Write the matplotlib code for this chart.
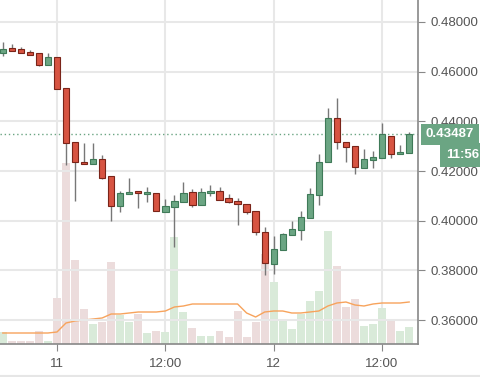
import pandas as pd
import matplotlib
matplotlib.use("Agg")
import matplotlib.pyplot as plt
import matplotlib.dates as mdates
import matplotlib.transforms as mtransforms
from matplotlib.lines import Line2D

# hourly candles
times = pd.date_range("2018-05-10 18:00", periods=46, freq="h")
opens = [0.4675, 0.4695, 0.4691, 0.4679, 0.4675, 0.4627, 0.4659, 0.4534, 0.4317, 0.4237,
         0.4229, 0.4249, 0.4180, 0.4060, 0.4108, 0.4120, 0.4108, 0.4112, 0.4035, 0.4056,
         0.4076, 0.4116, 0.4064, 0.4112, 0.4120, 0.4092, 0.4080, 0.4068, 0.4039, 0.3955,
         0.3826, 0.3883, 0.3943, 0.3963, 0.4011, 0.4104, 0.4237, 0.4414, 0.4317, 0.4301,
         0.4212, 0.4245, 0.4253, 0.4341, 0.4269, 0.4273]
highs = [0.4720, 0.4711, 0.4699, 0.4687, 0.4675, 0.4675, 0.4659, 0.4534, 0.4317, 0.4313,
         0.4313, 0.4265, 0.4180, 0.4120, 0.4172, 0.4120, 0.4136, 0.4112, 0.4088, 0.4104,
         0.4156, 0.4128, 0.4132, 0.4144, 0.4136, 0.4108, 0.4092, 0.4068, 0.4039, 0.3975,
         0.3939, 0.3951, 0.3999, 0.4039, 0.4132, 0.4269, 0.4454, 0.4494, 0.4317, 0.4301,
         0.4289, 0.4281, 0.4394, 0.4341, 0.4305, 0.4357]
lows = [0.4663, 0.4683, 0.4675, 0.4667, 0.4623, 0.4627, 0.4530, 0.4225, 0.4080, 0.4229,
        0.4229, 0.4168, 0.3999, 0.4035, 0.4108, 0.4052, 0.4076, 0.4039, 0.4035, 0.3895,
        0.4076, 0.4056, 0.4064, 0.4100, 0.4084, 0.4072, 0.3983, 0.4027, 0.3943, 0.3782,
        0.3786, 0.3883, 0.3943, 0.3923, 0.4011, 0.4064, 0.4237, 0.4289, 0.4237, 0.4188,
        0.4212, 0.4212, 0.4253, 0.4253, 0.4269, 0.4273]
closes = [0.4691, 0.4683, 0.4675, 0.4667, 0.4627, 0.4659, 0.4530, 0.4313, 0.4237, 0.4229,
          0.4249, 0.4172, 0.4060, 0.4112, 0.4116, 0.4112, 0.4116, 0.4039, 0.4060, 0.4080,
          0.4112, 0.4064, 0.4116, 0.4120, 0.4084, 0.4076, 0.4068, 0.4035, 0.3955, 0.3830,
          0.3887, 0.3947, 0.3967, 0.4015, 0.4108, 0.4237, 0.4414, 0.4317, 0.4297, 0.4217,
          0.4249, 0.4257, 0.4349, 0.4269, 0.4277, 0.43487]
volume = [12, 3, 3, 3, 13, 3, 46, 181, 84, 35,
          20, 22, 82, 29, 22, 30, 11, 13, 12, 107,
          32, 16, 8, 8, 13, 7, 33, 7, 22, 90,
          62, 24, 15, 30, 43, 53, 113, 78, 37, 45,
          18, 20, 36, 25, 13, 17]
volume_ma = [11, 11, 11, 11, 11, 11, 12, 21, 23, 24,
             25, 26, 30, 30, 31, 32, 32, 32, 33, 37,
             38, 40, 40, 40, 40, 40, 40, 31, 27, 32,
             33, 33, 31, 31, 32, 33, 38, 41, 42, 39,
             38, 40, 41, 41, 41, 42]
last_price = 0.43487
countdown = "11:56"
price_ticks = [0.36, 0.38, 0.40, 0.42, 0.44, 0.46, 0.48]
time_ticks = [times[6], times[18], times[30], times[42]]
time_labels = ["11", "12:00", "12", "12:00"]

green = "#6ba583"
green_edge = "#3f7a58"
red = "#d75442"
red_edge = "#7a2419"
plt.rcParams["font.family"] = ["Liberation Sans", "DejaVu Sans"]

x = mdates.date2num(times.to_pydatetime())
hour = 1 / 24
up = [c >= o for o, c in zip(opens, closes)]

fig = plt.figure(figsize=(4.81, 3.77), dpi=100)
ax_v = fig.add_axes([0, 33 / 377, 418 / 481, 344 / 377])
ax = ax_v.twinx()

# volume underneath
vol_colors = ["#d9ead9" if u else "#ecdcdc" for u in up]
ax_v.bar(x, volume, width=0.88 * hour, color=vol_colors, zorder=1)
ax_v.plot(x, volume_ma, color="#f7a35c", lw=1, zorder=2)
ax_v.set_ylim(0, 344)
ax_v.set_yticks([])
ax_v.set_xlim(x[0] - 0.31 * hour, x[0] + 45.98 * hour)
ax_v.set_xticks(mdates.date2num([t.to_pydatetime() for t in time_ticks]))
ax_v.set_xticklabels(time_labels)
ax_v.grid(axis="x", color="#e8e8e8", lw=1.5)
ax_v.set_axisbelow(True)
ax_v.tick_params(axis="x", length=5, color="#888888", labelcolor="#555555",
                 labelsize=9.5, pad=5)
for s in ["top", "left", "right"]:
    ax_v.spines[s].set_visible(False)
ax_v.spines["bottom"].set_color("#888888")
ax_v.spines["bottom"].set_linewidth(1.2)

# candles
ax.vlines(x, lows, highs, color="#777777", lw=1, zorder=2)
bottoms = [min(o, c) for o, c in zip(opens, closes)]
heights = [max(abs(c - o), 0.0004) for o, c in zip(opens, closes)]
ax.bar(x, heights, bottom=bottoms, width=0.7 * hour,
       color=[green if u else red for u in up],
       edgecolor=[green_edge if u else red_edge for u in up], lw=0.8, zorder=3)
ax.set_ylim(0.3504, 0.48885)
ax.set_yticks(price_ticks)
ax.set_yticklabels(["%.5f" % p for p in price_ticks])
ax.grid(axis="y", color="#e8e8e8", lw=1.5, zorder=0)
ax.tick_params(axis="y", length=5, color="#888888", labelcolor="#555555",
               labelsize=9.5, pad=4)
for s in ["top", "left", "bottom"]:
    ax.spines[s].set_visible(False)
ax.spines["right"].set_color("#888888")
ax.spines["right"].set_linewidth(1.2)

# last price marker
ax.axhline(last_price, color=green, ls=(0, (1, 2)), lw=1, zorder=1)
trans = mtransforms.blended_transform_factory(ax.transAxes, ax.transData)
ax.text(1.018, last_price, "%.5f" % last_price, transform=trans, ha="left", va="center",
        color="white", fontsize=9.5, fontweight="bold", clip_on=False,
        bbox=dict(boxstyle="square,pad=0.35", fc=green, ec="none"))
ax.text(1.067, 0.4263, countdown, transform=trans, ha="left", va="center",
        color="white", fontsize=9.5, fontweight="bold", clip_on=False,
        bbox=dict(boxstyle="square,pad=0.45", fc=green, ec="none"))

fig.add_artist(Line2D([0, 1], [0.002, 0.002], color="#e6e6e6", lw=1.5))

fig.savefig("out.png", dpi=100)
